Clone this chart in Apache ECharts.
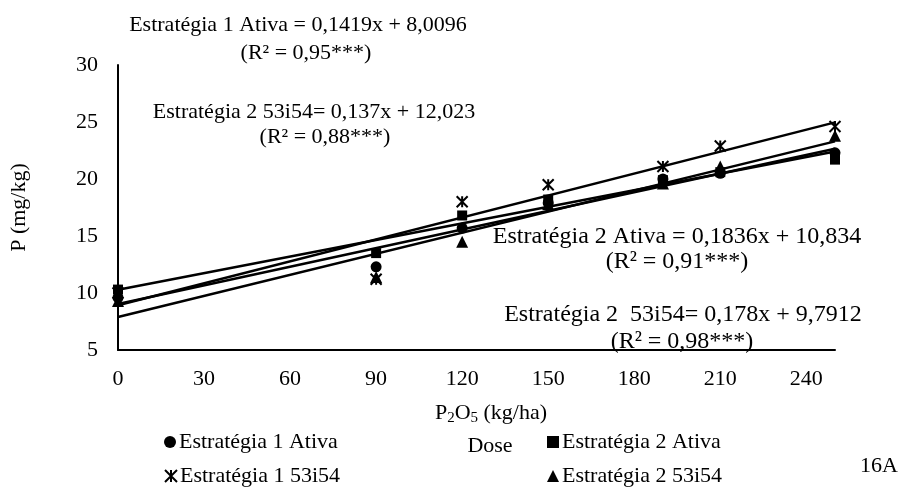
<!DOCTYPE html>
<html>
<head>
<meta charset="utf-8">
<script src="https://cdn.jsdelivr.net/npm/echarts@6/dist/echarts.min.js"></script>
<style>
  html, body { margin: 0; padding: 0; background: #fff; }
  #chart { width: 912px; height: 491px; }
</style>
</head>
<body>
<div id="chart"></div>
<script>
// P2O5 doses (kg/ha) and soil P (mg/kg) for each strategy
const doses = [0, 90, 120, 150, 190, 210, 250];
const e1Ativa = [9.6, 12.3, 15.7, 17.9, 20.0, 20.5, 22.3];
const e2Ativa = [10.3, 13.5, 16.8, 18.2, 19.9, 20.6, 21.7];
const e1S53i54 = [10.0, 11.2, 18.0, 19.5, 21.1, 22.9, 24.6];
const e2S53i54 = [9.3, 11.4, 14.5, 17.8, 19.6, 21.1, 23.8];

const seriesNames = ['Estratégia 1 Ativa', 'Estratégia 2 Ativa', 'Estratégia 1 53i54', 'Estratégia 2 53i54'];
const xRange = [0, 250];
const xStep = 30;
const yRange = [5, 30];
const yStep = 5;

// Regression equations printed on the plot
const eqTexts = [
  ['Estratégia 1 Ativa = 0,1419x + 8,0096', '(R² = 0,95***)'],
  ['Estratégia 2 53i54= 0,137x + 12,023', '(R² = 0,88***)'],
  ['Estratégia 2 Ativa = 0,1836x + 10,834', '(R² = 0,91***)'],
  ['Estratégia 2  53i54= 0,178x + 9,7912', '(R² = 0,98***)']
];

const FONT = '"Liberation Serif", "Times New Roman", serif';
const FS = 22;
const STAR = 'path://M0,0 L10,10 M10,0 L0,10 M5,0 L5,10';

// least-squares linear trend across the dose range
function trend(xs, ys) {
  const n = xs.length;
  const mx = xs.reduce((a, b) => a + b, 0) / n;
  const my = ys.reduce((a, b) => a + b, 0) / n;
  let sxy = 0, sxx = 0;
  for (let i = 0; i < n; i++) {
    sxy += (xs[i] - mx) * (ys[i] - my);
    sxx += (xs[i] - mx) * (xs[i] - mx);
  }
  const m = sxy / sxx;
  const b = my - m * mx;
  return xRange.map(x => [x, b + m * x]);
}

const pts = ys => doses.map((d, i) => [d, ys[i]]);
const groups = [
  { name: seriesNames[0], ys: e1Ativa, symbol: 'circle', size: 11 },
  { name: seriesNames[1], ys: e2Ativa, symbol: 'rect', size: 10 },
  { name: seriesNames[2], ys: e1S53i54, symbol: STAR, size: 11, stroke: true },
  { name: seriesNames[3], ys: e2S53i54, symbol: 'triangle', size: 12 }
];

const series = [];
groups.forEach(g => {
  series.push({
    type: 'line', data: trend(doses, g.ys), showSymbol: false, silent: true,
    lineStyle: { color: '#000', width: 2.5 }, z: 2
  });
});
groups.forEach(g => {
  series.push({
    name: g.name, type: 'scatter', data: pts(g.ys), symbol: g.symbol, symbolSize: g.size, z: 3,
    itemStyle: g.stroke
      ? { color: 'rgba(0,0,0,0)', borderColor: '#000', borderWidth: 2, opacity: 1 }
      : { color: '#000', opacity: 1 }
  });
});

const legendPos = [[164, 431], [547, 431], [164, 465], [547, 465]];
const legends = groups.map((g, i) => ({
  data: [{ name: g.name, icon: g.symbol }],
  left: legendPos[i][0], top: legendPos[i][1],
  itemWidth: 12, itemHeight: 12, padding: 0,
  textStyle: { fontFamily: FONT, fontSize: FS, color: '#000', padding: [0, 0, 0, -2] },
  selectedMode: false
}));

// [x, y of equation line, x, y of R² line, font size]
const eqPos = [[298, 25, 306, 53, 22], [314, 112, 325, 137, 22], [677, 237, 677, 262, 24], [683, 315, 682, 342, 24]];
const graphics = [];
eqTexts.forEach((t, i) => {
  const p = eqPos[i];
  const font = p[4] + 'px ' + FONT;
  graphics.push({ type: 'text', x: p[0], y: p[1], style: { text: t[0], font: font, fill: '#000', align: 'center', verticalAlign: 'middle' } });
  graphics.push({ type: 'text', x: p[2], y: p[3], style: { text: t[1], font: font, fill: '#000', align: 'center', verticalAlign: 'middle' } });
});
graphics.push({
  type: 'text', x: 491, y: 413,
  style: {
    text: '{n|P}{s|2}{n|O}{s|5}{n| (kg/ha)}', align: 'center', verticalAlign: 'middle',
    rich: {
      n: { fontFamily: FONT, fontSize: FS, lineHeight: 26, fill: '#000', verticalAlign: 'middle' },
      s: { fontFamily: FONT, fontSize: 15, lineHeight: 12, fill: '#000', verticalAlign: 'bottom' }
    }
  }
});
graphics.push({ type: 'text', x: 490, y: 446, style: { text: 'Dose', font: FS + 'px ' + FONT, fill: '#000', align: 'center', verticalAlign: 'middle' } });
graphics.push({ type: 'text', x: 879, y: 466, style: { text: '16A', font: FS + 'px ' + FONT, fill: '#000', align: 'center', verticalAlign: 'middle' } });

const chart = echarts.init(document.getElementById('chart'), null, { renderer: 'canvas' });
chart.setOption({
  animation: false,
  backgroundColor: '#fff',
  grid: { left: 118, right: 77, top: 65, bottom: 141, containLabel: false, outerBoundsMode: 'none' },
  xAxis: {
    type: 'value', min: xRange[0], max: xRange[1], interval: xStep,
    axisLine: { lineStyle: { color: '#000', width: 2 } },
    axisTick: { show: false }, splitLine: { show: false },
    axisLabel: { showMaxLabel: false, margin: 18, fontFamily: FONT, fontSize: FS, color: '#000' }
  },
  yAxis: {
    type: 'value', min: yRange[0], max: yRange[1], interval: yStep,
    name: 'P (mg/kg)', nameLocation: 'middle', nameGap: 88, nameRotate: 90,
    nameTextStyle: { fontFamily: FONT, fontSize: FS, color: '#000' },
    axisLine: { show: true, lineStyle: { color: '#000', width: 2 } },
    axisTick: { show: false }, splitLine: { show: false },
    axisLabel: { margin: 20, fontFamily: FONT, fontSize: FS, color: '#000' }
  },
  legend: legends,
  series: series,
  graphic: graphics
});
</script>
</body>
</html>
